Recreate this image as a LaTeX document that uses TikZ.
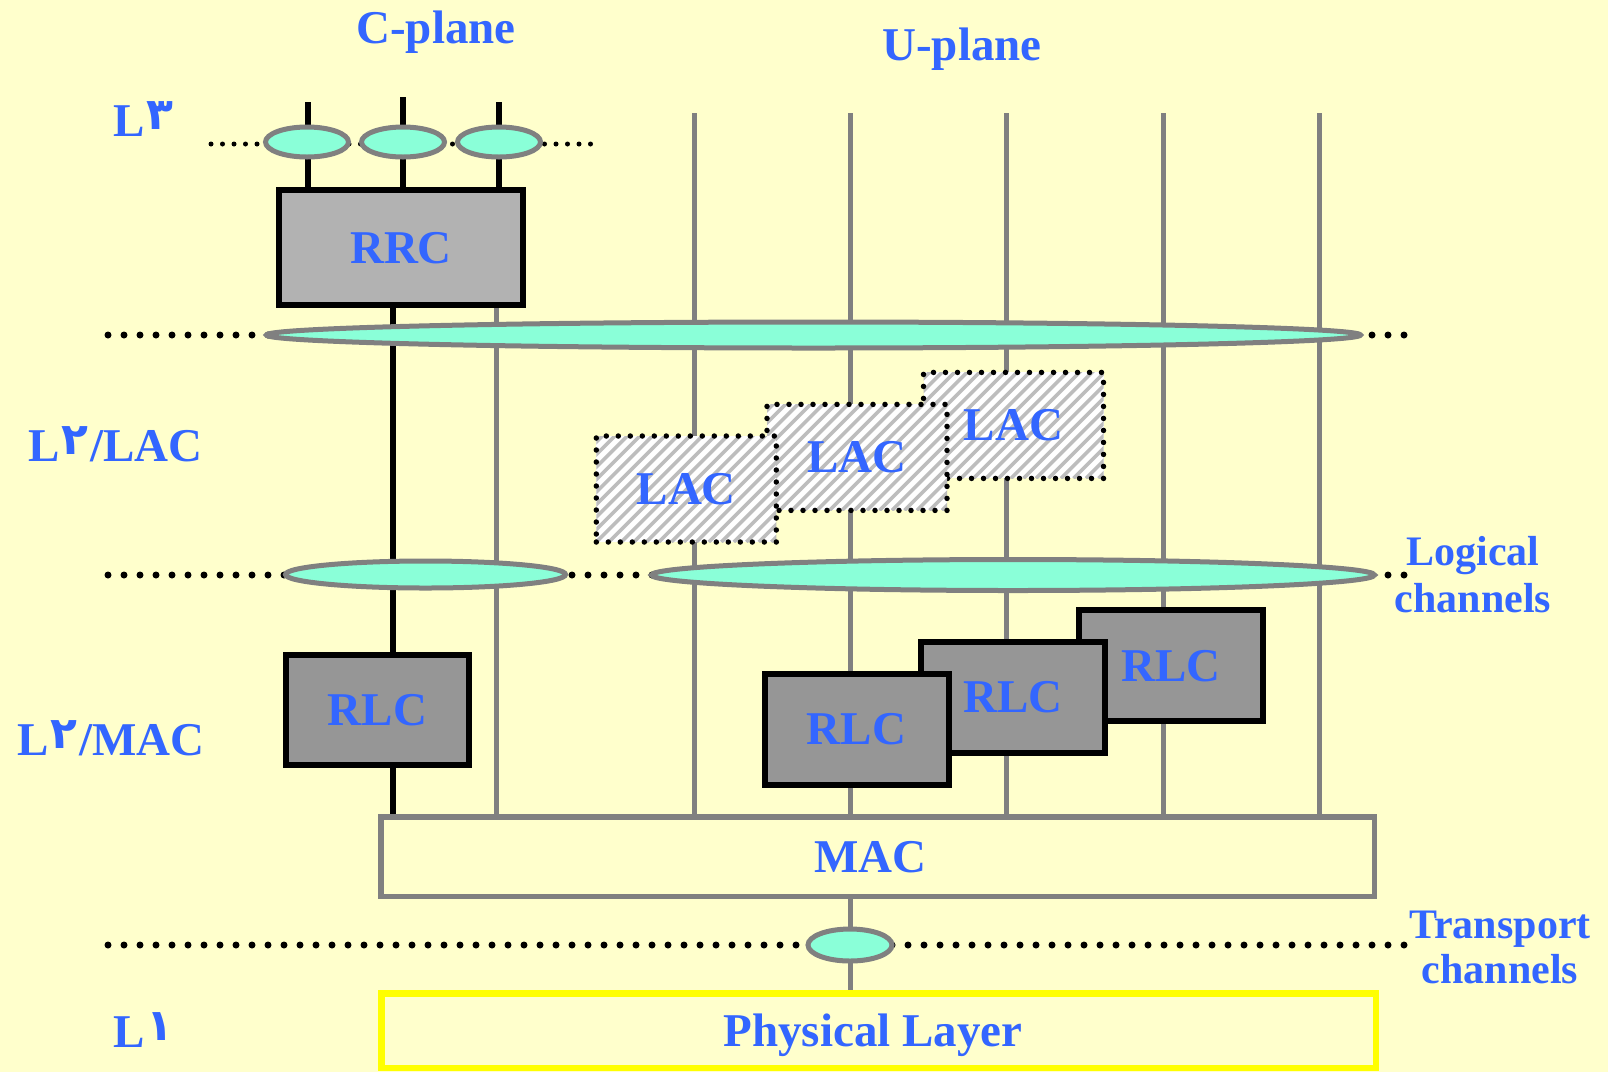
\documentclass[tikz,border=0pt]{standalone}
\usepackage{fontspec}
\setmainfont{Liberation Serif}
\newfontfamily\arabicfont[Script=Arabic]{DejaVu Sans}
\usetikzlibrary{shapes.geometric}
\pgfdeclarelayer{bglayer}
\pgfdeclarelayer{linelayer}
\pgfsetlayers{bglayer,linelayer,main}
\definecolor{bgyellow}{HTML}{FFFFCC}
\definecolor{txtblue}{HTML}{3366FF}
\definecolor{aqua}{HTML}{8AFFD8}
\definecolor{lgray}{HTML}{808080}
\definecolor{rrcgray}{HTML}{B2B2B2}
\definecolor{rlcgray}{HTML}{969696}
\definecolor{hatchgray}{HTML}{BDBDBD}
\definecolor{phyyellow}{HTML}{FFFF00}
\newcommand{\ardigit}[1]{\hspace{2pt}\raisebox{7pt}{\arabicfont\bfseries\fontsize{44}{48}\selectfont #1}\hspace{2pt}}
\begin{document}
\begin{tikzpicture}[x=1pt,y=-1pt,
 lbl/.style={text=txtblue, font=\fontsize{47}{56}\selectfont\bfseries},
 sidelbl/.style={text=txtblue, font=\fontsize{42}{46.7}\selectfont\bfseries, align=center, inner sep=0pt, anchor=north},
 chan/.style={ellipse, draw=lgray, fill=aqua, line width=5pt, inner sep=0pt},
 gline/.style={draw=lgray, line width=5pt},
 bline/.style={draw=black, line width=6pt},
 bigdots/.style={draw=black, line width=7pt, line cap=round, dash pattern=on 0pt off 16pt},
 smalldots/.style={draw=black, line width=5pt, line cap=round, dash pattern=on 0pt off 11.5pt},
 rrcbox/.style={rectangle, draw=black, line width=6pt, fill=rrcgray, inner sep=0pt, text depth=0pt, lbl},
 rlcbox/.style={rectangle, draw=black, line width=6pt, fill=rlcgray, inner sep=0pt, minimum width=184pt, minimum height=111pt, text depth=0pt, lbl},
 lacbox/.style={rectangle, draw=black, line width=5.5pt, line cap=round, dash pattern=on 0pt off 12pt, fill=white,
   path picture={\foreach \k in {-10,...,16}{\draw[hatchgray, line width=3.5pt, solid, line cap=butt] ([xshift=\k*12.5pt]path picture bounding box.south west) -- ++(150,-150);}},
   inner sep=0pt, minimum width=180pt, minimum height=106pt, text depth=0pt, lbl},
 sidebox/.style={rectangle, inner sep=0pt, text depth=0pt, lbl},
]
\useasboundingbox (0,0) rectangle (1608,1072);
\begin{pgfonlayer}{bglayer}
\fill[bgyellow] (0,0) rectangle (1608,1072);
\end{pgfonlayer}

% channel ellipses
\node[chan, minimum width=83pt, minimum height=30pt] (c1) at (307,142) {};
\node[chan, minimum width=83pt, minimum height=30pt] (c2) at (403,142) {};
\node[chan, minimum width=83pt, minimum height=30pt] (c3) at (499,142) {};
\node[chan, minimum width=1094pt, minimum height=26pt] (lch) at (813.5,335) {};
\node[chan, minimum width=280pt, minimum height=27pt] (lgl) at (425.5,574.5) {};
\node[chan, minimum width=723pt, minimum height=31pt] (lgr) at (1013,575) {};
\node[chan, minimum width=84pt, minimum height=32pt] (trc) at (850,945) {};

% boxes
\node[rrcbox, minimum width=244pt, minimum height=115pt] (rrc) at (401,247.5) {RRC};
\node[lacbox] (lac3) at (1013.5,425.4) {LAC};
\node[lacbox] (lac2) at (857,457.4) {LAC};
\node[lacbox] (lac1) at (686.3,489) {LAC};
\node[rlcbox, minimum width=183pt, minimum height=110pt] (rlcc) at (377.5,710) {RLC};
\node[rlcbox] (rlc3) at (1171,665.5) {RLC};
\node[rlcbox] (rlc2) at (1013,697) {RLC};
\node[rlcbox] (rlc1) at (856.5,729) {RLC};
\node[sidebox, draw=lgray, line width=5.5pt, minimum width=993.5pt, minimum height=79.5pt] (mac) at (877.5,856.5) {\hspace*{-14pt}MAC};
\node[sidebox, draw=phyyellow, line width=6.5pt, minimum width=994.5pt, minimum height=74.5pt] (phy) at (878.5,1030.5) {\hspace*{-11pt}Physical Layer};

% labels
\node[lbl, anchor=base, inner sep=0pt] (cpl) at (436,43) {C-plane};
\node[lbl, anchor=base, inner sep=0pt] (upl) at (962,60) {U-plane};
\node[lbl, anchor=base west, inner sep=0pt] (l3) at (113,136) {L\ardigit{٣}};
\node[lbl, anchor=base west, inner sep=0pt] (l2lac) at (28,461) {L\ardigit{٢}/LAC};
\node[lbl, anchor=base west, inner sep=0pt] (l2mac) at (17,755) {L\ardigit{٢}/MAC};
\node[lbl, anchor=base west, inner sep=0pt] (l1) at (113,1047) {L\ardigit{١}};
\node[sidelbl] (logch) at (1473,536.6) {Logical\\channels};
\node[sidelbl, font=\fontsize{42}{45}\selectfont\bfseries] (trch) at (1500,911.2) {Transport\\channels};

% lines behind
\begin{pgfonlayer}{linelayer}
\coordinate (l3a) at (211,144); \coordinate (l3b) at (593,144);
\draw[smalldots] (l3a) -- (l3b);
\coordinate (d1a) at (108,335); \coordinate (d1b) at (1413,335);
\draw[bigdots] (d1a) -- (d1b);
\coordinate (d2a) at (108,575); \coordinate (d2b) at (1413,575);
\draw[bigdots] (d2a) -- (d2b);
\coordinate (d3a) at (108,945); \coordinate (d3b) at (1413,945);
\draw[bigdots] (d3a) -- (d3b);
\coordinate (s1) at (308,102); \coordinate (s2) at (403,97); \coordinate (s3) at (499,102);
\draw[bline] (s1) -- (s1 |- rrc.north);
\draw[bline] (s2) -- (s2 |- rrc.north);
\draw[bline] (s3) -- (s3 |- rrc.north);
\coordinate (cx1) at (393,0); \coordinate (cx2) at (496,0);
\draw[bline] (rrc.south -| cx1) -- (rlcc.north -| cx1);
\draw[bline] (rlcc.south -| cx1) -- (mac.north -| cx1);
\draw[gline] (rrc.south -| cx2) -- (mac.north -| cx2);
\foreach \i/\x in {1/694,2/850,3/1006,4/1163,5/1319}{
  \coordinate (u\i) at (\x,113);
  \draw[gline] (u\i) -- (u\i |- mac.north);
}
\coordinate (tx) at (850,0);
\draw[gline] (mac.south -| tx) -- (phy.north -| tx);
\end{pgfonlayer}
\end{tikzpicture}
\end{document}
